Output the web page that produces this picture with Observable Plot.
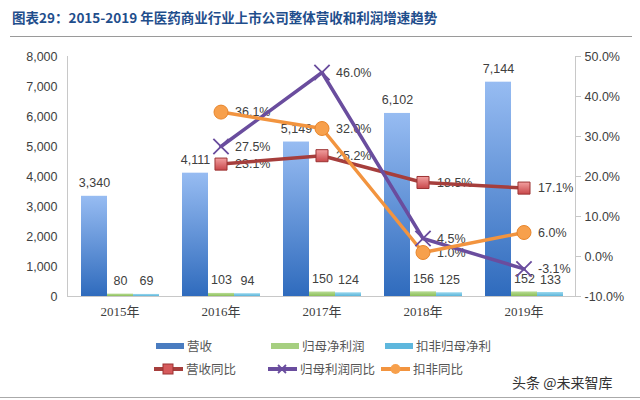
<!DOCTYPE html>
<html>
<head>
<meta charset="utf-8">
<script src="https://cdn.jsdelivr.net/npm/d3@7"></script>
<script src="https://cdn.jsdelivr.net/npm/@observablehq/plot@0.6"></script>
<style>
  body { margin:0; width:640px; height:400px; background:#fff; position:relative; overflow:hidden; font-family:"Noto Sans CJK SC", sans-serif; }
  #title { position:absolute; left:12px; top:7px; font-size:13.5px; font-weight:bold; color:#1f4e8c; white-space:nowrap; }
  #rule1 { position:absolute; left:10px; width:622px; top:36px; height:1px; background:#9a9a9a; }
  #chart { position:absolute; left:0; top:40px; width:640px; height:290px; }
  #chart svg { position:absolute; left:0; top:0; }
  .leg { position:absolute; display:flex; align-items:center; font-size:12.5px; color:#555; white-space:nowrap; }
  .leg svg { margin-right:2px; }
  #mark { position:absolute; left:512px; top:372px; font-size:14px; color:#333; }
  #rule2 { position:absolute; left:0; width:640px; top:397px; height:1px; background:#aaa; }
</style>
</head>
<body>
<div id="title">图表29：2015-2019 年医药商业行业上市公司整体营收和利润增速趋势</div>
<div id="rule1"></div>
<div id="chart"></div>
<div id="legend"></div>
<div id="mark">头条 @未来智库</div>
<div id="rule2"></div>
<script>
// ---- data ----
const years = ["2015年", "2016年", "2017年", "2018年", "2019年"];
const seriesNames = ["营收", "归母净利润", "扣非归母净利"];
const revenue = [3340, 4111, 5149, 6102, 7144];
const netProfit = [80, 103, 150, 156, 152];
const deductedProfit = [69, 94, 124, 125, 133];
const growthNames = ["营收同比", "归母利润同比", "扣非同比"];
const revenueGrowth = [null, 23.1, 25.2, 18.5, 17.1];
const profitGrowth = [null, 27.5, 46.0, 4.5, -3.1];
const deductedGrowth = [null, 36.1, 32.0, 1.0, 6.0];
const leftTicks = [0, 1000, 2000, 3000, 4000, 5000, 6000, 7000, 8000];
const rightTicks = [-10, 0, 10, 20, 30, 40, 50];

// ---- tables ----
const barValues = [revenue, netProfit, deductedProfit];
const barRows = [];
years.forEach((y, i) => seriesNames.forEach((s, j) => barRows.push({year: y, series: s, value: barValues[j][i]})));
const rowsOf = (vals) => years.map((y, i) => ({year: y, value: vals[i]})).filter(d => d.value != null);
const revG = rowsOf(revenueGrowth), profG = rowsOf(profitGrowth), dedG = rowsOf(deductedGrowth);

const W = 640, H = 290;
const M = {marginLeft: 67, marginRight: 65, marginTop: 16, marginBottom: 34};
const sans = "'Liberation Sans', Arial, sans-serif";
const serif = "'Liberation Serif', 'Noto Sans CJK SC', serif";

const defs = () => {
  const d = d3.create("svg:defs");
  const grad = (id, top, bottom) => {
    const g = d.append("linearGradient").attr("id", id).attr("x1", 0).attr("y1", 0).attr("x2", 0).attr("y2", 1);
    g.append("stop").attr("offset", "0%").attr("stop-color", top);
    g.append("stop").attr("offset", "100%").attr("stop-color", bottom);
  };
  grad("gBlue", "#97bcf2", "#2f6bbd");
  grad("gGreen", "#b9dc95", "#8cbf5a");
  grad("gCyan", "#9bd8ee", "#5bb5da");
  grad("gSq", "#f2a0a0", "#c8474a");
  return d.node();
};

const fmt = d3.format(",");
const bars = Plot.plot({
  width: W, height: H, ...M,
  style: {fontFamily: sans, fontSize: "12.5px", color: "#404040", background: "transparent"},
  fx: {domain: years, padding: 0},
  x: {domain: seriesNames, paddingInner: 0, paddingOuter: 0.42, axis: null},
  y: {domain: [0, 8000]},
  marks: [
    defs,
    Plot.axisY({ticks: leftTicks, tickFormat: fmt, tickSize: 0, tickPadding: 12, label: null, fontSize: 12.5, fill: "#404040"}),
    Plot.axisFx({anchor: "bottom", tickSize: 0, tickPadding: 10, label: null, fontFamily: serif, fontSize: 13, fill: "#404040"}),
    Plot.barY(barRows.filter(d => d.series === seriesNames[0]), {fx: "year", x: "series", y: "value", fill: "url(#gBlue)"}),
    Plot.barY(barRows.filter(d => d.series === seriesNames[1]), {fx: "year", x: "series", y: "value", fill: "url(#gGreen)"}),
    Plot.barY(barRows.filter(d => d.series === seriesNames[2]), {fx: "year", x: "series", y: "value", fill: "url(#gCyan)"}),
    Plot.text(barRows, {fx: "year", x: "series", y: "value", text: d => fmt(d.value), dy: -13, fill: "#404040", fontSize: 12.5})
  ]
});

const pct = d => d.toFixed(1) + "%";
const lineText = (data) => Plot.text(data, {x: "year", y: "value", text: d => pct(d.value), dx: 14, textAnchor: "start", fill: "#404040", fontSize: 12.5});
const lines = Plot.plot({
  width: W, height: H, ...M,
  style: {fontFamily: sans, fontSize: "12.5px", color: "#404040", background: "transparent"},
  x: {type: "band", domain: years, padding: 0, axis: null},
  y: {domain: [-10, 50]},
  marks: [
    defs,
    Plot.frame({anchor: "left", stroke: "#c8c8c8"}),
    Plot.frame({anchor: "bottom", stroke: "#c8c8c8"}),
    Plot.frame({anchor: "right", stroke: "#c8c8c8"}),
    Plot.axisY({anchor: "right", ticks: rightTicks, tickFormat: pct, tickSize: 5, tickPadding: 4, stroke: "#c8c8c8", label: null, fontSize: 12.5, fill: "#404040"}),
    lineText(revG), lineText(profG), lineText(dedG),
    Plot.line(revG, {x: "year", y: "value", stroke: "#a63e3c", strokeWidth: 3.5}),
    Plot.line(profG, {x: "year", y: "value", stroke: "#6a4d9e", strokeWidth: 3.5}),
    Plot.line(dedG, {x: "year", y: "value", stroke: "#f2943f", strokeWidth: 3.5}),
    Plot.dot(revG, {x: "year", y: "value", symbol: "square", r: 6.8, fill: "url(#gSq)", stroke: "#9c3333", strokeWidth: 1}),
    Plot.dot(profG, {x: "year", y: "value", symbol: "times", r: 7, stroke: "#6a4d9e", strokeWidth: 1.8}),
    Plot.dot(dedG, {x: "year", y: "value", symbol: "circle", r: 7, fill: "#f7a04c", stroke: "#e8862c", strokeWidth: 1})
  ]
});

document.getElementById("chart").append(bars, lines);

// ---- legend (HTML) ----
const leg = document.getElementById("legend");
const item = (x, y, svg, label) => {
  const d = document.createElement("div");
  d.className = "leg";
  d.style.left = x + "px"; d.style.top = (y - 9) + "px";
  d.innerHTML = svg + "<span>" + label + "</span>";
  leg.append(d);
};
const rectSw = c => `<svg width="30" height="10"><rect x="1" y="2" width="28" height="6" fill="${c}"/></svg>`;
item(155, 345, rectSw("#4a7cc0"), seriesNames[0]);
item(270, 345, rectSw("#a6cf80"), seriesNames[1]);
item(384, 345, rectSw("#5eb7dd"), seriesNames[2]);
item(153, 368, `<svg width="31" height="14"><line x1="1" x2="30" y1="7" y2="7" stroke="#a63e3c" stroke-width="4"/><rect x="10" y="2" width="10" height="10" fill="#d65a5c" stroke="#9c3333"/></svg>`, growthNames[0]);
item(267, 368, `<svg width="31" height="14"><line x1="1" x2="30" y1="7" y2="7" stroke="#6a4d9e" stroke-width="4"/><path d="M11,3L19,11M19,3L11,11" stroke="#6a4d9e" stroke-width="1.8"/></svg>`, growthNames[1]);
item(380, 368, `<svg width="31" height="14"><line x1="1" x2="30" y1="7" y2="7" stroke="#f2943f" stroke-width="4"/><circle cx="15.5" cy="7" r="5" fill="#f7a04c"/></svg>`, growthNames[2]);
</script>
</body>
</html>
